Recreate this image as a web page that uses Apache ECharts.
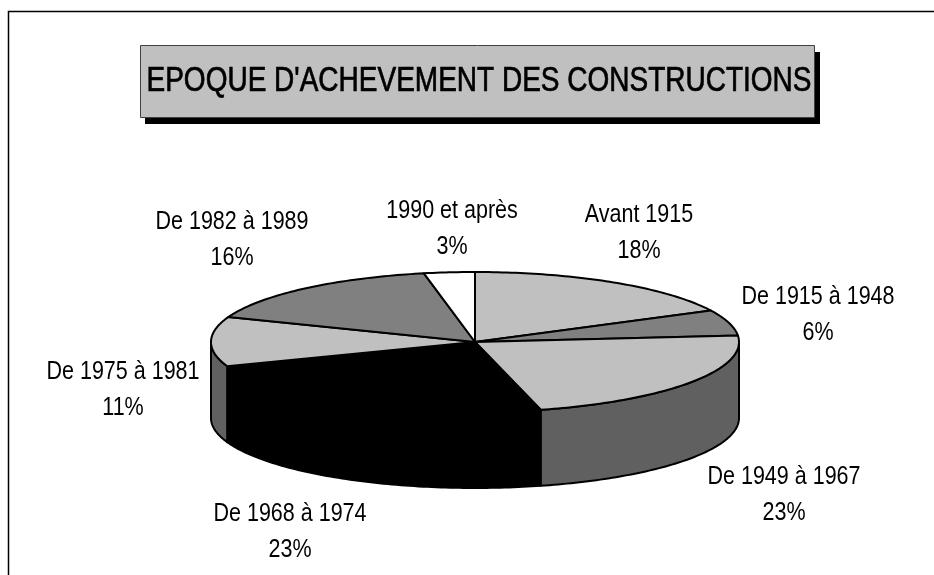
<!DOCTYPE html>
<html><head><meta charset="utf-8">
<style>html,body{margin:0;padding:0;background:#fff}#c{width:934px;height:575px}</style>
<script src="https://cdn.jsdelivr.net/npm/echarts@6/dist/echarts.min.js"></script>
</head><body><div id="c"></div>
<script>
const titleText = "EPOQUE D'ACHEVEMENT DES CONSTRUCTIONS";
const categories = ['Avant 1915','De 1915 à 1948','De 1949 à 1967','De 1968 à 1974','De 1975 à 1981','De 1982 à 1989','1990 et après'];
const values = [17.6,5.9,22.5,23.4,11.4,16.1,3.1];
const topColors = ['#c0c0c0','#808080','#c0c0c0','#000000','#c0c0c0','#808080','#ffffff'];
const sideColors = ['#606060','#404040','#606060','#000000','#606060','#404040','#808080'];
const labelCenters = [[639,233],[818,315],[784,495],[290,532],[123,390],[232,240],[452,229]];

const PIE = {cx:475, cy:342, rx:264, ry:70, depth:76};
const total = values.reduce((a,b)=>a+b,0);
const starts = []; values.reduce((acc,v,i)=>{starts[i]=acc; return acc+v;},0);
const angle = v => v/total*2*Math.PI;
const px = a => PIE.cx + PIE.rx*Math.sin(a);
const py = a => PIE.cy - PIE.ry*Math.cos(a);
function arcPts(a0,a1,dy){
  const n = Math.max(2,Math.ceil((a1-a0)/(Math.PI/180)));
  const out=[];
  for(let i=0;i<=n;i++){const a=a0+(a1-a0)*i/n; out.push([px(a),py(a)+dy]);}
  return out;
}
const rows = values.map((v,i)=>[i,starts[i],v]);
const line = {stroke:'#000',lineWidth:2,lineJoin:'round'};
const fontFamily = '"Liberation Sans",Arial,sans-serif';

const wallSeries = {type:'custom',coordinateSystem:'none',silent:true,data:rows,z:2,
  renderItem(params,api){
    const i=api.value(0);
    const a0=Math.max(angle(api.value(1)),Math.PI/2);
    const a1=Math.min(angle(api.value(1)+api.value(2)),Math.PI*1.5);
    if(a1<=a0) return {type:'group',children:[]};
    const pts=arcPts(a0,a1,0).concat(arcPts(a0,a1,PIE.depth).reverse());
    return {type:'polygon',shape:{points:pts},style:Object.assign({fill:sideColors[i]},line)};
  }};
const topSeries = {type:'custom',coordinateSystem:'none',silent:true,data:rows,z:3,
  renderItem(params,api){
    const i=api.value(0);
    const a0=angle(api.value(1)), a1=angle(api.value(1)+api.value(2));
    const pts=[[PIE.cx,PIE.cy]].concat(arcPts(a0,a1,0));
    return {type:'polygon',shape:{points:pts},style:Object.assign({fill:topColors[i]},line)};
  }};
const labelSeries = {type:'custom',coordinateSystem:'none',silent:true,data:rows,z:4,
  renderItem(params,api){
    const i=api.value(0);
    return {type:'text',x:labelCenters[i][0],y:labelCenters[i][1],scaleX:0.86,
      style:{text:categories[i]+'\n'+Math.round(api.value(2))+'%',fontFamily,fontSize:25,lineHeight:36,fill:'#000',align:'center',verticalAlign:'middle'}};
  }};
const chart = echarts.init(document.getElementById('c'),null,{renderer:'canvas'});
chart.setOption({
  animation:false,backgroundColor:'#fff',
  graphic:[
    {type:'polyline',z:1,shape:{points:[[8.5,600],[8.5,11.5],[940,11.5]]},style:{stroke:'#000',lineWidth:1.5,fill:null}},
    {type:'rect',z:1,shape:{x:145,y:52,width:675,height:72},style:{fill:'#000'}},
    {type:'rect',z:1,shape:{x:140.5,y:45.5,width:674,height:72},style:{fill:'#c0c0c0',stroke:'#404040',lineWidth:1}},
    {type:'text',z:2,x:479,y:81,scaleX:0.8,style:{text:titleText,fontFamily,fontSize:35,fill:'#000',stroke:'#000',lineWidth:0.7,align:'center',verticalAlign:'middle'}}
  ],
  series:[wallSeries,topSeries,labelSeries]
});
</script></body></html>
